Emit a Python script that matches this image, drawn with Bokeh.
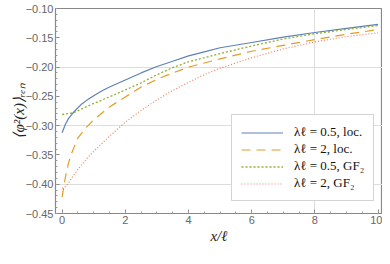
from bokeh.plotting import figure
from bokeh.models import FixedTicker, Legend, LegendItem
from bokeh.embed import file_html
from bokeh.resources import INLINE

# ---- data ----
x_a = [0, 0.1, 0.2, 0.3, 0.4, 0.6, 0.8, 1.0, 1.25, 1.5, 2, 2.5, 3, 3.5, 4, 4.5, 5, 6, 7, 8, 9, 10]
y_a = [-0.312, -0.298, -0.288, -0.281, -0.275, -0.264, -0.256, -0.249, -0.241, -0.234, -0.222,
       -0.210, -0.199, -0.190, -0.181, -0.174, -0.167, -0.158, -0.149, -0.141, -0.134, -0.127]

x_b = [0, 0.05, 0.1, 0.2, 0.3, 0.5, 0.75, 1.0, 1.5, 2, 2.5, 3, 3.5, 4, 5, 6, 7, 8, 9, 10]
y_b = [-0.422, -0.405, -0.389, -0.364, -0.347, -0.321, -0.304, -0.290, -0.268, -0.251, -0.234,
       -0.221, -0.210, -0.200, -0.186, -0.173, -0.163, -0.153, -0.144, -0.136]

x_c = [0, 0.2, 0.4, 0.6, 0.8, 1.0, 1.5, 2, 2.5, 3, 3.5, 4, 5, 6, 7, 8, 9, 10]
y_c = [-0.281, -0.2795, -0.277, -0.272, -0.267, -0.262, -0.251, -0.239, -0.227, -0.213, -0.201,
       -0.191, -0.177, -0.164, -0.152, -0.143, -0.136, -0.129]

x_d = [0, 0.1, 0.2, 0.4, 0.6, 0.8, 1.0, 1.5, 2, 2.5, 3, 3.5, 4, 4.5, 5, 6, 7, 8, 9, 10]
y_d = [-0.407, -0.404, -0.398, -0.382, -0.368, -0.355, -0.344, -0.318, -0.294, -0.274, -0.256,
       -0.240, -0.226, -0.213, -0.202, -0.184, -0.169, -0.157, -0.148, -0.1415]

series_labels = ["λℓ = 0.5, loc.", "λℓ = 2, loc.", "λℓ = 0.5, GF₂", "λℓ = 2, GF₂"]

x_ticks = [0, 2, 4, 6, 8, 10]
x_tick_labels = ["0", "2", "4", "6", "8", "10"]
y_ticks = [-0.45, -0.40, -0.35, -0.30, -0.25, -0.20, -0.15, -0.10]
y_tick_labels = ["−0.45", "−0.40", "−0.35", "−0.30", "−0.25", "−0.20", "−0.15", "−0.10"]

# ---- figure ----
p = figure(width=382, height=256, x_range=(-0.21, 10.14), y_range=(-0.45, -0.10),
           output_backend="svg", toolbar_location=None,
           min_border_left=55, min_border_right=0, min_border_top=8, min_border_bottom=43)
p.background_fill_color = "white"
p.border_fill_color = "white"
p.outline_line_color = "#888888"
p.outline_line_width = 1.2

x_minor = [i * 0.5 for i in range(0, 21)]
y_minor = [round(-0.45 + 0.01 * i, 2) for i in range(0, 36)]

p.xaxis.ticker = FixedTicker(ticks=x_ticks, minor_ticks=x_minor)
p.yaxis.ticker = FixedTicker(ticks=y_ticks, minor_ticks=y_minor)
p.xaxis.major_label_overrides = {t: l for t, l in zip(x_ticks, x_tick_labels)}
p.yaxis.major_label_overrides = {t: l for t, l in zip(y_ticks, y_tick_labels)}

for ax in (p.xaxis[0], p.yaxis[0]):
    ax.axis_line_color = "#888888"
    ax.major_tick_line_color = "#888888"
    ax.minor_tick_line_color = "#999999"
    ax.major_tick_in = 4
    ax.major_tick_out = 0
    ax.minor_tick_in = 2
    ax.minor_tick_out = 0
    ax.major_label_text_font = "Liberation Sans"
    ax.major_label_text_font_size = "11px"
    ax.major_label_text_color = "#666666"
    ax.major_label_standoff = 2
    ax.axis_label_text_font = "Liberation Serif"
    ax.axis_label_text_font_style = "italic"
    ax.axis_label_text_font_size = "15px"
    ax.axis_label_text_color = "#222222"

p.xaxis.axis_label_standoff = 1
p.yaxis.axis_label_standoff = -4
p.xaxis.axis_label = "x/ℓ"
p.yaxis.axis_label = "⟨φ²(x)⟩ᵣₑₙ"

p.ygrid.ticker = FixedTicker(ticks=[-0.40, -0.30, -0.20])
p.xgrid.ticker = FixedTicker(ticks=[8])
p.grid.grid_line_color = "#dddddd"
p.grid.grid_line_width = 1

r1 = p.line(x_a, y_a, line_color="#5E81B5", line_width=1.2)
r2 = p.line(x_b, y_b, line_color="#E19C24", line_width=1.2, line_dash="9 6")
r3 = p.line(x_c, y_c, line_color="#8FB032", line_width=1.3, line_dash="2 2")
r4 = p.line(x_d, y_d, line_color="#EB6235", line_width=1.2, line_dash="1 2", line_alpha=0.8)

legend = Legend(items=[LegendItem(label=lab, renderers=[r])
                       for lab, r in zip(series_labels, [r1, r2, r3, r4])],
                location=(176, 12))
legend.label_text_font = "Liberation Serif"
legend.label_text_font_size = "13px"
legend.label_text_color = "#111111"
legend.border_line_color = "#aaaaaa"
legend.border_line_width = 1
legend.background_fill_color = "white"
legend.background_fill_alpha = 1
legend.glyph_width = 42
legend.glyph_height = 15
legend.label_height = 15
legend.label_standoff = 11
legend.spacing = 1
legend.padding = 9
legend.margin = 0
p.add_layout(legend)

open("out.html", "w").write(file_html(p, INLINE))
